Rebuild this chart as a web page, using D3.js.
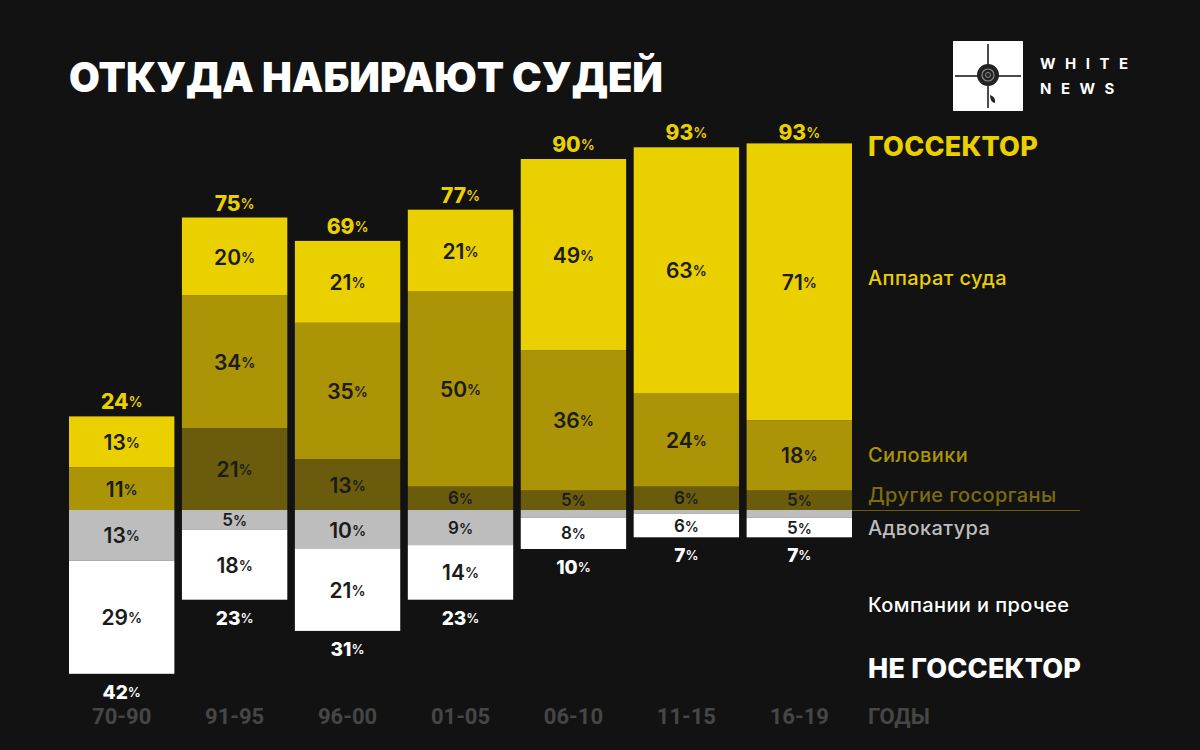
<!DOCTYPE html>
<html><head><meta charset="utf-8">
<script src="https://cdn.jsdelivr.net/npm/d3@7"></script>
<style>
html,body{margin:0;padding:0;background:#121212;}
svg{display:block;font-family:Inter,"Noto Sans",sans-serif;}
</style></head>
<body>
<svg id="chart" width="1200" height="750"></svg>
<script>
// ---- data ----
const periods = ["70-90","91-95","96-00","01-05","06-10","11-15","16-19"];
const apparatus = [13,20,21,21,49,63,71];   // Аппарат суда
const siloviki  = [11,34,35,50,36,24,18];   // Силовики
const otherGov  = [0,21,13,6,5,6,5];        // Другие госорганы
const advocacy  = [13,5,10,9,2,1,2];        // Адвокатура
const companies = [29,18,21,14,8,6,5];      // Компании и прочее
const govTotals    = [24,75,69,77,90,93,93];
const nonGovTotals = [42,23,31,23,10,7,7];
const advocacyLabelShown = [true,true,true,true,false,false,false];

const svg = d3.select("#chart");
svg.append("rect").attr("width",1200).attr("height",750).attr("fill","#121212");

const BASE = 510, K = 3.9;
const x = d3.scaleBand().domain(periods).range([69,852]).paddingInner(0.067).paddingOuter(0);
const y = d3.scaleLinear().domain([-50,100]).range([BASE+50*K, BASE-100*K]);

const C = {app:"#ebd000", sil:"#ab9405", oth:"#6b5b0d", adv:"#bdbdbd", com:"#ffffff"};

// build stacked segments
const segs = [];
periods.forEach((p,i)=>{
  let up = 0;
  [["oth",otherGov[i]],["sil",siloviki[i]],["app",apparatus[i]]].forEach(([k,v])=>{
    segs.push({p,k,y0:up,y1:up+v,v,label:v>0});
    up += v;
  });
  let dn = 0;
  [["adv",advocacy[i]],["com",companies[i]]].forEach(([k,v])=>{
    segs.push({p,k,y0:-(dn+v),y1:-dn,v,label:k==="adv"?advocacyLabelShown[i]:true});
    dn += v;
  });
});

const g = svg.append("g");
g.selectAll("rect.seg").data(segs).join("rect")
  .attr("class","seg")
  .attr("x",d=>x(d.p)).attr("width",x.bandwidth())
  .attr("y",d=>y(d.y1)).attr("height",d=>y(d.y0)-y(d.y1))
  .attr("fill",d=>C[d.k]);

function pct(sel, sizeNum, sizePct){
  sel.each(function(d){
    const t = d3.select(this);
    t.text(null);
    t.append("tspan").attr("font-size",typeof sizeNum==="function"?sizeNum(d):sizeNum).text(d.v);
    t.append("tspan").attr("font-size",sizePct).attr("font-weight",600).text("%");
  });
}

// segment labels
g.selectAll("text.seglab").data(segs.filter(d=>d.label && d.v>0)).join("text")
  .attr("class","seglab")
  .attr("x",d=>x(d.p)+x.bandwidth()/2)
  .attr("y",d=>(y(d.y0)+y(d.y1))/2)
  .attr("text-anchor","middle").attr("dominant-baseline","central")
  .attr("fill","#1b1b1b").attr("font-weight",600)
  .call(pct, d=> d.v<10 ? 17 : 21, 14);

// totals
const tops = periods.map((p,i)=>({p,v:govTotals[i]}));
g.selectAll("text.top").data(tops).join("text")
  .attr("class","top")
  .attr("x",d=>x(d.p)+x.bandwidth()/2)
  .attr("y",d=>y(d.v)-15)
  .attr("text-anchor","middle").attr("dominant-baseline","central")
  .attr("fill","#ebd000").attr("font-weight",800)
  .call(pct,21,14);

const bots = periods.map((p,i)=>({p,v:nonGovTotals[i]}));
g.selectAll("text.bot").data(bots).join("text")
  .attr("class","bot")
  .attr("x",d=>x(d.p)+x.bandwidth()/2)
  .attr("y",d=>y(-d.v)+18)
  .attr("text-anchor","middle").attr("dominant-baseline","central")
  .attr("fill","#ffffff").attr("font-weight",800)
  .call(pct,19,13);

// x axis
const ax = svg.append("g").attr("transform","translate(0,716)")
  .call(d3.axisBottom(x).tickSize(0).tickPadding(0));
ax.select(".domain").remove();
ax.selectAll("text").attr("fill","#464646").attr("font-size",22).attr("font-weight",700)
  .attr("font-family","Roboto, Inter, sans-serif").attr("dy","0.36em");

svg.append("text").attr("x",868).attr("y",716).attr("dy","0.36em")
  .attr("fill","#464646").attr("font-size",22).attr("font-weight",700)
  .attr("font-family","Roboto, Inter, sans-serif").text("ГОДЫ");

// title
svg.append("text").attr("x",69).attr("y",92).attr("fill","#ffffff")
  .attr("font-size",41).attr("font-weight",900)
  .attr("textLength",594).attr("lengthAdjust","spacingAndGlyphs")
  .text("ОТКУДА НАБИРАЮТ СУДЕЙ");

// legend
const L = 868;
const leg = [
  {t:"ГОССЕКТОР", y:146, c:"#ebd000", s:27, w:800},
  {t:"Аппарат суда", y:278, c:"#ebd000", s:20, w:500},
  {t:"Силовики", y:455, c:"#ab9405", s:20, w:500},
  {t:"Другие госорганы", y:495, c:"#7d6b10", s:20, w:500},
  {t:"Адвокатура", y:528, c:"#bdbdbd", s:20, w:500},
  {t:"Компании и прочее", y:605, c:"#ffffff", s:20, w:500},
  {t:"НЕ ГОССЕКТОР", y:668, c:"#ffffff", s:27, w:800}
];
svg.selectAll("text.leg").data(leg).join("text").attr("class","leg")
  .attr("x",L).attr("y",d=>d.y).attr("dominant-baseline","central")
  .attr("fill",d=>d.c).attr("font-size",d=>d.s).attr("font-weight",d=>d.w)
  .attr("letter-spacing",d=>d.w<700?0.4:0.2).text(d=>d.t);
svg.append("line").attr("x1",852).attr("x2",1080).attr("y1",y(0)+0.5).attr("y2",y(0)+0.5)
  .attr("stroke","#6b5b0d").attr("stroke-width",1);

// logo
const lg = svg.append("g").attr("transform","translate(953,41)");
lg.append("rect").attr("width",70).attr("height",70).attr("fill","#ffffff");
lg.append("line").attr("x1",35).attr("x2",35).attr("y1",3).attr("y2",67).attr("stroke","#111").attr("stroke-width",1.5);
lg.append("line").attr("x1",2).attr("x2",68).attr("y1",35).attr("y2",35).attr("stroke","#111").attr("stroke-width",1.5);
lg.append("circle").attr("cx",35).attr("cy",34).attr("r",11).attr("fill","#222");
lg.append("circle").attr("cx",35).attr("cy",34).attr("r",6).attr("fill","none").attr("stroke","#888").attr("stroke-width",1.2);
lg.append("circle").attr("cx",35).attr("cy",34).attr("r",2.5).attr("fill","none").attr("stroke","#888").attr("stroke-width",1);
lg.append("path").attr("d","M37,54 q6,2 5,8 q-5,-1 -5,-8z").attr("fill","#222");
svg.append("text").attr("x",1040).attr("y",63).attr("dominant-baseline","central")
  .attr("fill","#fff").attr("font-size",15).attr("font-weight",700).attr("letter-spacing",9.5).text("WHITE");
svg.append("text").attr("x",1040).attr("y",88).attr("dominant-baseline","central")
  .attr("fill","#fff").attr("font-size",15).attr("font-weight",700).attr("letter-spacing",9.5).text("NEWS");
</script>
</body></html>
